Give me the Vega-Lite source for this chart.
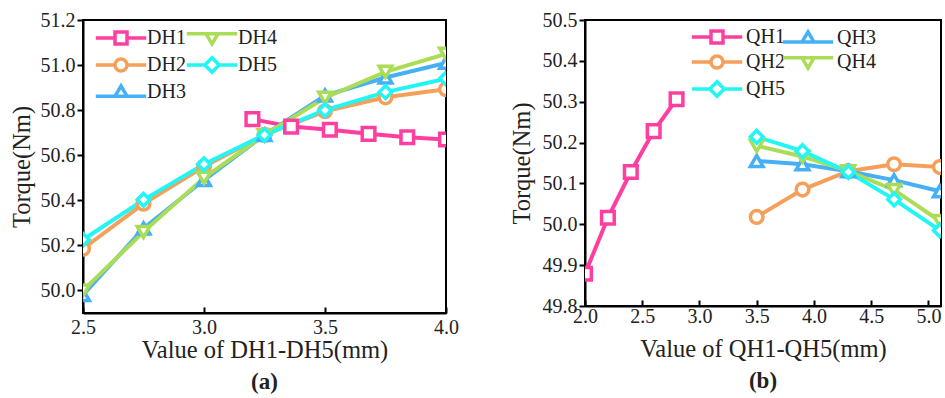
{
  "$schema": "https://vega.github.io/schema/vega-lite/v6.json",
  "padding": {"left": 8, "top": 9, "right": 5, "bottom": 0},
  "background": "white",
  "config": {
    "font": "Liberation Serif",
    "view": {"stroke": "black", "strokeWidth": 2},
    "axis": {
      "labelFont": "Liberation Serif", "titleFont": "Liberation Serif",
      "labelFontSize": 20, "titleFontSize": 24.5, "titleFontWeight": "normal",
      "labelColor": "#222", "titleColor": "#222",
      "domainColor": "black", "domainWidth": 2, "tickColor": "black", "tickWidth": 2,
      "grid": false, "labelFlush": false, "labelOverlap": false
    },
    "legend": {
      "labelFont": "Liberation Serif", "labelFontSize": 20, "labelColor": "#222",
      "symbolStrokeWidth": 3.5, "symbolSize": 144, "padding": 0
    },
    "title": {"font": "Liberation Serif", "fontSize": 23, "fontWeight": "bold", "color": "#222"}
  },
  "datasets": {
    "a": [
      {"series": "DH1", "x": 3.2, "y": 50.76}, {"series": "DH1", "x": 3.36, "y": 50.727}, {"series": "DH1", "x": 3.52, "y": 50.713},
      {"series": "DH1", "x": 3.68, "y": 50.695}, {"series": "DH1", "x": 3.84, "y": 50.68}, {"series": "DH1", "x": 4.0, "y": 50.67},
      {"series": "DH2", "x": 2.5, "y": 50.185}, {"series": "DH2", "x": 2.75, "y": 50.385}, {"series": "DH2", "x": 3.0, "y": 50.55},
      {"series": "DH2", "x": 3.25, "y": 50.69}, {"series": "DH2", "x": 3.5, "y": 50.795}, {"series": "DH2", "x": 3.75, "y": 50.857}, {"series": "DH2", "x": 4.0, "y": 50.893},
      {"series": "DH3", "x": 2.5, "y": 49.98}, {"series": "DH3", "x": 2.75, "y": 50.275}, {"series": "DH3", "x": 3.0, "y": 50.49},
      {"series": "DH3", "x": 3.25, "y": 50.69}, {"series": "DH3", "x": 3.5, "y": 50.865}, {"series": "DH3", "x": 3.75, "y": 50.945}, {"series": "DH3", "x": 4.0, "y": 51.01},
      {"series": "DH4", "x": 2.5, "y": 50.0}, {"series": "DH4", "x": 2.75, "y": 50.26}, {"series": "DH4", "x": 3.0, "y": 50.5},
      {"series": "DH4", "x": 3.25, "y": 50.69}, {"series": "DH4", "x": 3.5, "y": 50.855}, {"series": "DH4", "x": 3.75, "y": 50.97}, {"series": "DH4", "x": 4.0, "y": 51.05},
      {"series": "DH5", "x": 2.5, "y": 50.225}, {"series": "DH5", "x": 2.75, "y": 50.402}, {"series": "DH5", "x": 3.0, "y": 50.56},
      {"series": "DH5", "x": 3.25, "y": 50.69}, {"series": "DH5", "x": 3.5, "y": 50.8}, {"series": "DH5", "x": 3.75, "y": 50.88}, {"series": "DH5", "x": 4.0, "y": 50.94}
    ],
    "b": [
      {"series": "QH1", "x": 2.0, "y": 49.879}, {"series": "QH1", "x": 2.2, "y": 50.016}, {"series": "QH1", "x": 2.4, "y": 50.128},
      {"series": "QH1", "x": 2.6, "y": 50.228}, {"series": "QH1", "x": 2.8, "y": 50.306},
      {"series": "QH2", "x": 3.5, "y": 50.018}, {"series": "QH2", "x": 3.9, "y": 50.085}, {"series": "QH2", "x": 4.3, "y": 50.13},
      {"series": "QH2", "x": 4.7, "y": 50.147}, {"series": "QH2", "x": 5.1, "y": 50.14},
      {"series": "QH3", "x": 3.5, "y": 50.155}, {"series": "QH3", "x": 3.9, "y": 50.147}, {"series": "QH3", "x": 4.3, "y": 50.13},
      {"series": "QH3", "x": 4.7, "y": 50.108}, {"series": "QH3", "x": 5.1, "y": 50.081},
      {"series": "QH4", "x": 3.5, "y": 50.192}, {"series": "QH4", "x": 3.9, "y": 50.166}, {"series": "QH4", "x": 4.3, "y": 50.13},
      {"series": "QH4", "x": 4.7, "y": 50.084}, {"series": "QH4", "x": 5.1, "y": 50.008},
      {"series": "QH5", "x": 3.5, "y": 50.214}, {"series": "QH5", "x": 3.9, "y": 50.179}, {"series": "QH5", "x": 4.3, "y": 50.128},
      {"series": "QH5", "x": 4.7, "y": 50.061}, {"series": "QH5", "x": 5.1, "y": 49.985}
    ]
  },
  "hconcat": [
    {
      "width": 363, "height": 293,
      "data": {"name": "a"},
      "title": {"text": "(a)", "orient": "bottom", "offset": 9},
      "encoding": {
        "x": {"field": "x", "type": "quantitative", "scale": {"domain": [2.5, 4.0], "nice": false, "zero": false},
              "axis": {"title": "Value of DH1-DH5(mm)", "values": [2.5, 3.0, 3.5, 4.0], "format": ".1f", "tickSize": -6, "labelPadding": 10, "titlePadding": 1}},
        "y": {"field": "y", "type": "quantitative", "scale": {"domain": [49.9, 51.2], "nice": false, "zero": false},
              "axis": {"title": "Torque(Nm)", "values": [50.0, 50.2, 50.4, 50.6, 50.8, 51.0, 51.2], "format": ".1f", "tickSize": 6, "labelPadding": 2, "titlePadding": 6}}
      },
      "resolve": {"scale": {"stroke": "independent", "shape": "independent"}},
      "layer": [
        {
          "mark": {"type": "line", "strokeWidth": 4, "clip": true},
          "encoding": {
            "stroke": {"field": "series", "type": "nominal",
                       "scale": {"domain": ["DH1", "DH2", "DH3", "DH4", "DH5"], "range": ["#ff3fa0", "#f5a05a", "#45b0f5", "#aadd55", "#22f5f5"]},
                       "legend": null}
          }
        },
        {
          "mark": {"type": "point", "filled": false, "fill": "white", "fillOpacity": 1, "strokeWidth": 3.5, "size": 160, "opacity": 1, "clip": true},
          "encoding": {
            "stroke": {"field": "series", "type": "nominal",
                       "scale": {"domain": ["DH1", "DH2", "DH3", "DH4", "DH5"], "range": ["#ff3fa0", "#f5a05a", "#45b0f5", "#aadd55", "#22f5f5"]},
                       "legend": null},
            "shape": {"field": "series", "type": "nominal",
                      "scale": {"domain": ["DH1", "DH2", "DH3", "DH4", "DH5"], "range": ["square", "circle", "triangle-up", "triangle-down", "diamond"]},
                      "legend": null}
          }
        },
        {
          "transform": [{"filter": "false"}],
          "mark": {"type": "point", "filled": false, "strokeWidth": 3.5, "opacity": 1},
          "encoding": {
            "stroke": {"field": "series", "type": "nominal",
                       "scale": {"domain": ["DH1", "DH2", "DH3", "DH4", "DH5"], "range": ["#ff3fa0", "#f5a05a", "#45b0f5", "#aadd55", "#22f5f5"]},
                       "legend": {"title": null, "orient": "none", "legendX": 28, "legendY": 8, "columns": 2, "labelOffset": 16, "columnPadding": -7, "rowPadding": -1, "symbolStrokeWidth": 3.5, "symbolSize": 144}},
            "shape": {"field": "series", "type": "nominal",
                      "scale": {"domain": ["DH1", "DH2", "DH3", "DH4", "DH5"],
                                "range": [
                                  "M-4.2,0H-1M1,0H4.2M-1,-1H1V1H-1Z",
                                  "M-4.2,0H-1M1,0H4.2M-1,0A1,1,0,1,1,1,0A1,1,0,1,1,-1,0Z",
                                  "M-4.2,0.7H-1M1,0.7H4.2M0,-1L1,0.7L-1,0.7Z",
                                  "M-4.2,-0.7H-1M1,-0.7H4.2M0,1L1,-0.7L-1,-0.7Z",
                                  "M-4.2,0H-1.2M1.2,0H4.2M-1.2,0L0,-1.2L1.2,0L0,1.2Z"
                                ]},
                      "legend": {"title": null, "orient": "none", "legendX": 28, "legendY": 8, "columns": 2, "labelOffset": 16, "columnPadding": -7, "rowPadding": -1, "symbolStrokeWidth": 3.5, "symbolSize": 144}}
          }
        }
      ]
    },
    {
      "width": 356, "height": 286,
      "data": {"name": "b"},
      "title": {"text": "(b)", "orient": "bottom", "offset": 9},
      "encoding": {
        "x": {"field": "x", "type": "quantitative", "scale": {"domain": [2.0, 5.11], "nice": false, "zero": false},
              "axis": {"title": "Value of QH1-QH5(mm)", "values": [2.0, 2.5, 3.0, 3.5, 4.0, 4.5, 5.0], "format": ".1f", "tickSize": -6, "labelPadding": 6, "titlePadding": 11}},
        "y": {"field": "y", "type": "quantitative", "scale": {"domain": [49.8, 50.5], "nice": false, "zero": false},
              "axis": {"title": "Torque(Nm)", "values": [49.8, 49.9, 50.0, 50.1, 50.2, 50.3, 50.4, 50.5], "format": ".1f", "tickSize": 6, "labelPadding": 2, "titlePadding": 8}}
      },
      "resolve": {"scale": {"stroke": "independent", "shape": "independent"}},
      "layer": [
        {
          "mark": {"type": "line", "strokeWidth": 4, "clip": true},
          "encoding": {
            "stroke": {"field": "series", "type": "nominal",
                       "scale": {"domain": ["QH1", "QH2", "QH5", "QH3", "QH4"], "range": ["#ff3fa0", "#f5a05a", "#22f5f5", "#45b0f5", "#aadd55"]},
                       "legend": null}
          }
        },
        {
          "mark": {"type": "point", "filled": false, "fill": "white", "fillOpacity": 1, "strokeWidth": 3.5, "size": 160, "opacity": 1, "clip": true},
          "encoding": {
            "stroke": {"field": "series", "type": "nominal",
                       "scale": {"domain": ["QH1", "QH2", "QH5", "QH3", "QH4"], "range": ["#ff3fa0", "#f5a05a", "#22f5f5", "#45b0f5", "#aadd55"]},
                       "legend": null},
            "shape": {"field": "series", "type": "nominal",
                      "scale": {"domain": ["QH1", "QH2", "QH5", "QH3", "QH4"], "range": ["square", "circle", "diamond", "triangle-up", "triangle-down"]},
                      "legend": null}
          }
        },
        {
          "transform": [{"filter": "false"}],
          "mark": {"type": "point", "filled": false, "strokeWidth": 3.5, "opacity": 1},
          "encoding": {
            "stroke": {"field": "series", "type": "nominal",
                       "scale": {"domain": ["QH1", "QH2", "QH5", "QH3", "QH4"], "range": ["#ff3fa0", "#f5a05a", "#22f5f5", "#45b0f5", "#aadd55"]},
                       "legend": {"title": null, "orient": "none", "legendX": 122, "legendY": 7, "columns": 2, "labelOffset": 19, "columnPadding": -10, "rowPadding": -1, "symbolStrokeWidth": 3.5, "symbolSize": 144}},
            "shape": {"field": "series", "type": "nominal",
                      "scale": {"domain": ["QH1", "QH2", "QH5", "QH3", "QH4"],
                                "range": [
                                  "M-4.2,0H-1M1,0H4.2M-1,-1H1V1H-1Z",
                                  "M-4.2,0H-1M1,0H4.2M-1,0A1,1,0,1,1,1,0A1,1,0,1,1,-1,0Z",
                                  "M-4.2,0H-1.2M1.2,0H4.2M-1.2,0L0,-1.2L1.2,0L0,1.2Z",
                                  "M-4.2,0.7H-1M1,0.7H4.2M0,-1L1,0.7L-1,0.7Z",
                                  "M-4.2,-0.7H-1M1,-0.7H4.2M0,1L1,-0.7L-1,-0.7Z"
                                ]},
                      "legend": {"title": null, "orient": "none", "legendX": 122, "legendY": 7, "columns": 2, "labelOffset": 19, "columnPadding": -10, "rowPadding": -1, "symbolStrokeWidth": 3.5, "symbolSize": 144}}
          }
        }
      ]
    }
  ],
  "bounds": "flush",
  "spacing": 139
}
